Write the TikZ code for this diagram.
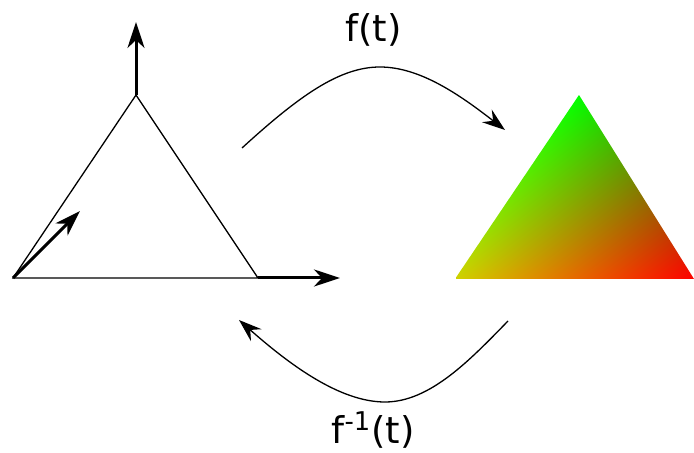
\documentclass[tikz,border=0pt]{standalone}
\usepackage{fontspec}
\setmainfont{DejaVu Sans}
\usetikzlibrary{arrows.meta}
\pgfdeclarefunctionalshading{trishade}{\pgfpoint{0bp}{0bp}}{\pgfpoint{119.5bp}{92bp}}{}{
92 div dup 62 mul 3 -1 roll exch sub 119.5 div
2 copy add 1 exch sub 0.82 mul
dup 3 -1 roll add
3 1 roll add
0
}
\tikzset{
  thinline/.style={line width=0.65bp, black},
  vecarrow/.style={line width=1.5bp, black, -{Stealth[length=13bp, width=8.5bp, inset=4bp]}},
  maparrow/.style={line width=0.65bp, black, -{Stealth[length=11.5bp, width=8bp, inset=4bp]}},
  lbl/.style={font=\fontsize{18.5}{22}\selectfont, inner sep=0pt}
}
\begin{document}
\begin{tikzpicture}[x=0.5bp, y=-0.5bp]
\useasboundingbox (0,0) rectangle (694,453);
% left triangle
\coordinate (A) at (13,278);
\coordinate (B) at (258,278);
\coordinate (C) at (136,95);
\coordinate (Aend) at (80,211);
\coordinate (Bend) at (340,278);
\coordinate (Cend) at (136,22);
\draw[thinline, line join=miter] (A) -- (B) -- (C) -- cycle;
\draw[vecarrow] (C) -- (Cend);
\draw[vecarrow] (B) -- (Bend);
\draw[vecarrow] (A) -- (Aend);
% coloured triangle
\coordinate (L) at (455,279);
\coordinate (R) at (694,279);
\coordinate (T) at (579,95);
\begin{scope}
\clip (L) -- (R) -- (T) -- cycle;
\node[inner sep=0pt, outer sep=0pt, anchor=south west] (shade) at (L) {\pgfuseshading{trishade}};
\end{scope}
% mapping arrows
\coordinate (f1) at (242,148);
\coordinate (f2) at (505,130);
\draw[maparrow] (f1) .. controls (300,95) and (340,67) .. (380,67) .. controls (420,67) and (460,95) .. (f2);
\coordinate (g1) at (508,321);
\coordinate (g2) at (239,320);
\draw[maparrow] (g1) .. controls (470,360) and (430,402) .. (385,402) .. controls (340,402) and (290,365) .. (g2);
% labels
\node[lbl] (ft) at (373.5,29.5) {f(t)};
\node[lbl] (finv) at (373,430) {f\textsuperscript{-1}(t)};
\end{tikzpicture}
\end{document}
